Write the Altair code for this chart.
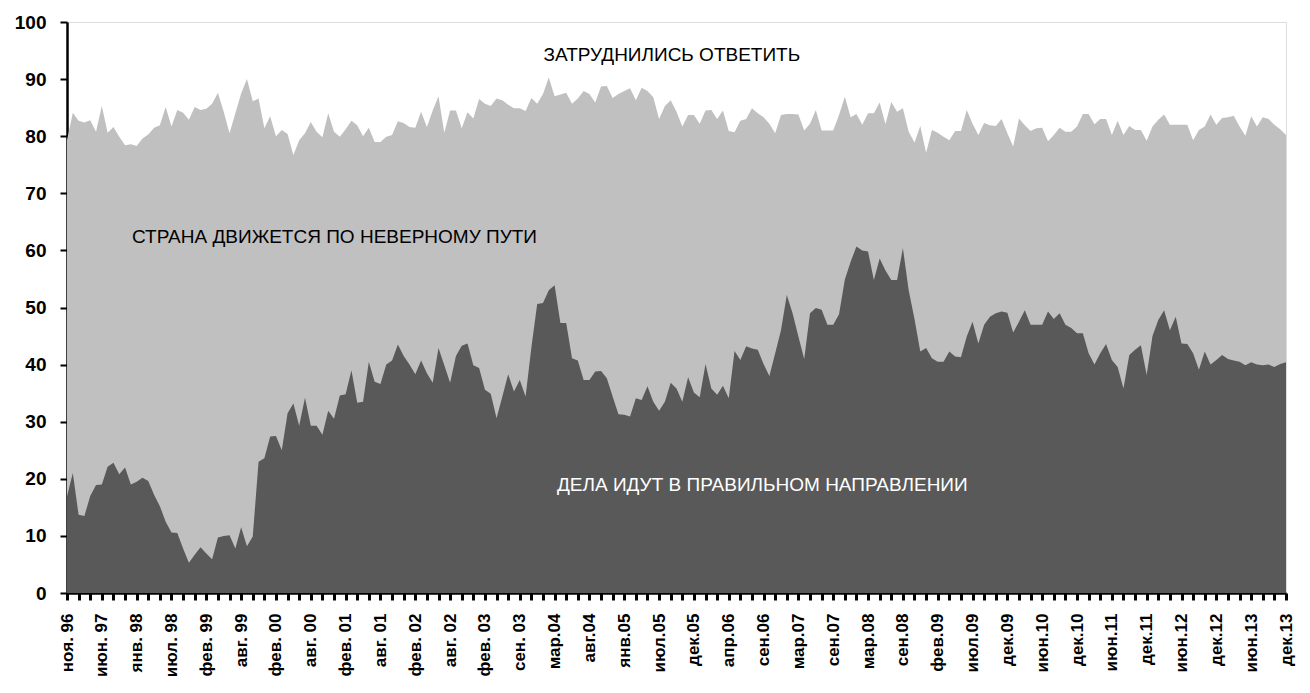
import json
import altair as alt
import pandas as pd

# x-axis labels (every 6th survey wave)
labels = ["ноя. 96", "июн. 97", "янв. 98", "июл. 98", "фев. 99", "авг. 99", "фев. 00", "авг. 00",
          "фев. 01", "авг. 01", "фев. 02", "авг. 02", "фев. 03", "сен. 03", "мар.04", "авг.04",
          "янв.05", "июл.05", "дек.05", "апр.06", "сен.06", "мар.07", "сен.07", "мар.08", "сен.08",
          "фев.09", "июл.09", "дек.09", "июн.10", "дек.10", "июн.11", "дек.11", "июн.12", "дек.12",
          "июн.13", "дек.13"]

# "ДЕЛА ИДУТ В ПРАВИЛЬНОМ НАПРАВЛЕНИИ", %
right_dir = [
    16.9, 21, 13.7, 13.5, 17, 18.9, 19, 22.1, 22.8, 20.8,
    22, 19, 19.5, 20.2, 19.6, 17.2, 15.2, 12.5, 10.6, 10.5,
    7.8, 5.3, 6.7, 8, 6.9, 5.9, 9.7, 10, 10.1, 7.8,
    11.5, 8.2, 9.9, 23, 23.6, 27.4, 27.5, 25, 31.5, 33.2,
    29.3, 34.2, 29.3, 29.3, 27.7, 31.9, 30.5, 34.6, 34.8, 39,
    33.3, 33.5, 40.5, 37, 36.6, 40, 40.7, 43.5, 41.5, 40,
    38.3, 40.7, 38.5, 36.8, 42.9, 39.9, 36.8, 41.5, 43.3, 43.7,
    39.9, 39.4, 35.6, 34.9, 30.6, 34.4, 38.3, 35.3, 37.3, 34.4,
    43, 50.6, 50.8, 53, 53.9, 47.3, 47.3, 41.1, 40.7, 37.3,
    37.3, 38.8, 38.9, 37.6, 34.4, 31.3, 31.2, 30.9, 34.1, 33.8,
    36.2, 33.5, 31.9, 33.5, 36.8, 35.8, 33.5, 37.8, 35.1, 34.3,
    40.1, 35.8, 34.7, 36.3, 34.1, 42.4, 40.8, 43.2, 42.8, 42.6,
    40.1, 38, 42, 46, 52.2, 49, 44.9, 41, 49, 49.9,
    49.6, 47, 47, 48.8, 54.9, 58, 60.7, 60, 59.8, 54.8,
    58.6, 56.5, 54.8, 54.8, 60.4, 53, 48, 42.3, 42.9, 41.1,
    40.5, 40.5, 42.3, 41.4, 41.3, 44.9, 47.5, 43.7, 47, 48.4,
    49, 49.3, 49.1, 45.6, 47.5, 49.5, 47, 47, 47, 49.3,
    48, 49, 47, 46.4, 45.5, 45.5, 42, 40, 42, 43.6,
    40.8, 39.6, 35.8, 41.7, 42.6, 43.4, 38.2, 45, 47.8, 49.5,
    46, 48.4, 43.7, 43.6, 42, 39.1, 42.3, 40, 40.8, 41.7,
    41, 40.7, 40.5, 39.9, 40.4, 40, 39.9, 40, 39.6, 40.1,
    40.4,
]

# upper edge of "СТРАНА ДВИЖЕТСЯ ПО НЕВЕРНОМУ ПУТИ" (right + wrong), %
right_plus_wrong = [
    79.3, 84.1, 82.7, 82.4, 82.8, 80.8, 85.3, 80.6, 81.6, 79.9,
    78.4, 78.6, 78.3, 79.6, 80.3, 81.5, 81.9, 85.1, 81.7, 84.6,
    84.1, 82.9, 85.1, 84.6, 84.8, 85.7, 87.6, 84.3, 80.5, 84,
    87.5, 90, 86.1, 86.6, 81.4, 83.5, 80, 81.1, 80.4, 76.7,
    79.3, 80.5, 82.5, 80.8, 79.8, 84, 80.8, 79.9, 81.2, 82.7,
    81.9, 80, 81.5, 79, 79, 79.9, 80.2, 82.6, 82.3, 81.6,
    81.5, 84.3, 81.6, 84.5, 87, 80.6, 84.5, 84.5, 81.4, 84.2,
    83.1, 86.5, 85.7, 85.3, 86.6, 86.3, 85.5, 84.9, 84.9, 84.4,
    86.7, 85.7, 87.4, 90.3, 87, 87.3, 87.6, 85.7, 86.6, 87.9,
    87.4, 85.9, 88.7, 88.8, 86.7, 87.4, 87.9, 88.4, 86.3, 88.5,
    87.9, 86.8, 83, 85.3, 86.3, 84.3, 81.7, 83.7, 83.7, 82.2,
    84.5, 84.6, 83, 84.5, 80.9, 80.7, 82.7, 83, 84.9, 84,
    83.3, 82.2, 80.5, 83.7, 83.9, 83.9, 83.8, 81, 82.2, 84.6,
    81, 81, 81, 83.7, 86.9, 83.3, 83.9, 82, 84, 84,
    85.9, 82.1, 86, 84.3, 84.9, 80.8, 78.9, 81.8, 77.1, 81.1,
    80.6, 79.9, 79.3, 80.9, 80.9, 84.6, 82.2, 80.2, 82.3, 81.9,
    81.8, 83, 80.5, 78.2, 83.1, 81.9, 80.9, 81.4, 81.5, 79.1,
    80.2, 81.5, 80.8, 80.8, 81.7, 83.9, 83.9, 82.1, 83, 83,
    80.2, 82.7, 80.2, 81.8, 81.1, 81.1, 79.2, 81.7, 82.9, 83.8,
    82, 82, 82, 82, 79.3, 81.1, 81.7, 83.8, 82, 83.2,
    83.3, 83.6, 81.7, 80.1, 83.5, 81.7, 83.3, 83, 82, 81.2,
    80.2,
]

ann_text = ["ЗАТРУДНИЛИСЬ ОТВЕТИТЬ", "СТРАНА ДВИЖЕТСЯ ПО НЕВЕРНОМУ ПУТИ",
            "ДЕЛА ИДУТ В ПРАВИЛЬНОМ НАПРАВЛЕНИИ"]
ann_idx = [104.2, 11.2, 84.4]
ann_val = [94.2, 62.3, 19.0]

n = len(right_dir)
df = pd.DataFrame({"idx": list(range(n)), "right": right_dir, "upper": right_plus_wrong})

last = n - 1
label_js = json.dumps(labels, ensure_ascii=False)
label_expr = f"datum.value % 6 == 0 ? {label_js}[datum.value / 6] : ''"

FONT = "Liberation Sans"

x_enc = alt.X(
    "idx:Q",
    scale=alt.Scale(domain=[0, last], nice=False, zero=False),
    axis=alt.Axis(
        values=list(range(0, last + 1, 2)),
        tickCount=500,
        labelExpr=label_expr,
        labelAngle=-90, labelAlign="right", labelBaseline="middle",
        labelFont=FONT, labelFontSize=17, labelFontWeight="bold", labelColor="black",
        labelPadding=13, labelOverlap=False, labelFlush=False, labelBound=False,
        tickSize=7, tickWidth=3, tickColor="black",
        domainColor="black", domainWidth=2.5, grid=False, title=None,
    ),
)
y_scale = alt.Scale(domain=[0, 100], nice=False)
y_axis = alt.Axis(
    values=list(range(0, 101, 10)),
    tickCount=50,
    labelFont=FONT, labelFontSize=19, labelFontWeight="bold", labelColor="black",
    labelPadding=14, tickSize=7, tickWidth=2, tickColor="black",
    domainColor="black", domainWidth=2.5, grid=False, title=None,
)

base = alt.Chart(df)
light = base.mark_area(color="#C0C0C0", interpolate="linear").encode(
    x=x_enc, y=alt.Y("upper:Q", scale=y_scale, axis=y_axis)
)
dark = base.mark_area(color="#595959", interpolate="linear").encode(
    x="idx:Q", y=alt.Y("right:Q", scale=y_scale)
)

ann = pd.DataFrame({"t": ann_text, "i": ann_idx, "v": ann_val})
t1 = alt.Chart(ann.iloc[[0]]).mark_text(font=FONT, fontSize=19, color="black", align="center",
                                        baseline="middle").encode(x="i:Q", y="v:Q", text="t:N")
t2 = alt.Chart(ann.iloc[[1]]).mark_text(font=FONT, fontSize=19, color="black", align="left",
                                        baseline="middle").encode(x="i:Q", y="v:Q", text="t:N")
t3 = alt.Chart(ann.iloc[[2]]).mark_text(font=FONT, fontSize=19, color="white", align="left",
                                        baseline="middle").encode(x="i:Q", y="v:Q", text="t:N")

chart = alt.layer(light, dark, t1, t2, t3).properties(
    width=1219, height=571,
    autosize=alt.AutoSizeParams(type="none"),
    padding={"left": 59, "top": 14, "right": 16, "bottom": 90},
).configure_view(stroke="#222222", strokeWidth=1.5).configure(background="white")

chart.save("out.html", embed_options={"renderer": "svg", "actions": False})
